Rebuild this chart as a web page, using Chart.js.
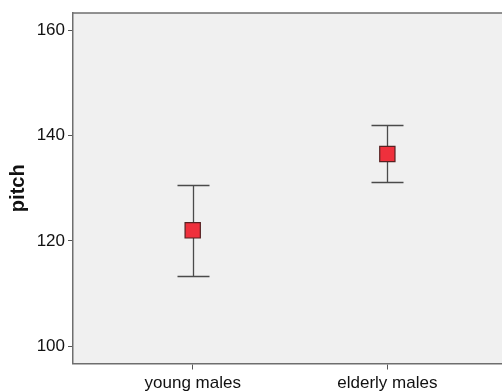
<!DOCTYPE html>
<html>
<head>
<meta charset="utf-8">
<script src="https://cdn.jsdelivr.net/npm/chart.js@4.4.1/dist/chart.umd.min.js"></script>
<style>
  html, body { margin: 0; padding: 0; background: #fff; }
  #wrap { width: 502px; height: 392px; }
</style>
</head>
<body>
<div id="wrap"><canvas id="myChart" width="502" height="392"></canvas></div>
<script>
// values
const categories = ['young males', 'elderly males'];
const means = [122.0, 136.5];
const upper = [130.7, 142.1];
const lower = [113.3, 131.1];
const yTicks = [100, 120, 140, 160];

const font = 'Liberation Sans, Arial, sans-serif';

// plot background + frame + whiskers
let errorBars = {
  id: 'errorBars',
  beforeDraw(chart) {
    const { ctx, chartArea: a } = chart;
    ctx.save();
    ctx.fillStyle = '#f0f0f0';
    ctx.fillRect(a.left, a.top, a.right - a.left, a.bottom - a.top);
    ctx.strokeStyle = '#6e6e6e';
    ctx.lineWidth = 1.5;
    ctx.beginPath();
    ctx.moveTo(a.left, a.top);
    ctx.lineTo(a.right, a.top);
    ctx.stroke();
    ctx.restore();
  },
  beforeDatasetsDraw(chart) {
    const { ctx } = chart;
    const xs = chart.scales.x, ys = chart.scales.y;
    ctx.save();
    ctx.strokeStyle = '#4a4a4a';
    ctx.lineWidth = 1.3;
    categories.forEach((c, i) => {
      const x = Math.round(xs.getPixelForValue(i + 1)) + 0.5;
      const yHi = Math.round(ys.getPixelForValue(upper[i])) + 0.5;
      const yLo = Math.round(ys.getPixelForValue(lower[i])) + 0.5;
      ctx.beginPath();
      ctx.moveTo(x, yHi); ctx.lineTo(x, yLo);
      ctx.moveTo(x - 16, yHi); ctx.lineTo(x + 16, yHi);
      ctx.moveTo(x - 16, yLo); ctx.lineTo(x + 16, yLo);
      ctx.stroke();
    });
    ctx.restore();
  }
};

let ctx = document.getElementById('myChart').getContext('2d');
let chart = new Chart(ctx, {
  type: 'scatter',
  data: {
    datasets: [{
      data: means.map((m, i) => ({ x: i + 1, y: m })),
      pointStyle: 'rect',
      pointRadius: 10.8,
      backgroundColor: '#ef303c',
      borderColor: '#552222',
      borderWidth: 1.2
    }]
  },
  options: {
    responsive: false,
    animation: false,
    layout: { autoPadding: false, padding: { top: 13, right: 0, left: 0, bottom: 0 } },
    plugins: { legend: { display: false }, tooltip: { enabled: false } },
    scales: {
      x: {
        type: 'linear',
        min: 0.385,
        max: 2.589,
        afterBuildTicks: (s) => { s.ticks = categories.map((c, i) => ({ value: i + 1 })); },
        afterFit: (s) => { s.height = 28.5; s.paddingLeft = 0; s.paddingRight = 0; },
        border: { color: '#6e6e6e', width: 1.5 },
        grid: { drawOnChartArea: false, drawTicks: true, tickLength: 6, color: '#555' },
        ticks: {
          padding: 4,
          color: '#111',
          font: { family: font, size: 17 },
          maxRotation: 0,
          callback: (v) => categories[v - 1]
        }
      },
      y: {
        min: 96.7,
        max: 163.3,
        afterBuildTicks: (s) => { s.ticks = yTicks.map(v => ({ value: v })); },
        afterFit: (s) => { s.width = 73; s.paddingTop = 0; s.paddingBottom = 0; },
        border: { color: '#6e6e6e', width: 1.5 },
        grid: { drawOnChartArea: false, drawTicks: true, tickLength: 5, color: '#555' },
        ticks: {
          padding: 3,
          color: '#111',
          font: { family: font, size: 17 }
        },
        title: {
          display: true,
          text: 'pitch',
          color: '#111',
          font: { family: font, size: 20, weight: 'bold' },
          padding: { top: 6, bottom: 0 }
        }
      }
    }
  },
  plugins: [errorBars]
});
</script>
</body>
</html>
